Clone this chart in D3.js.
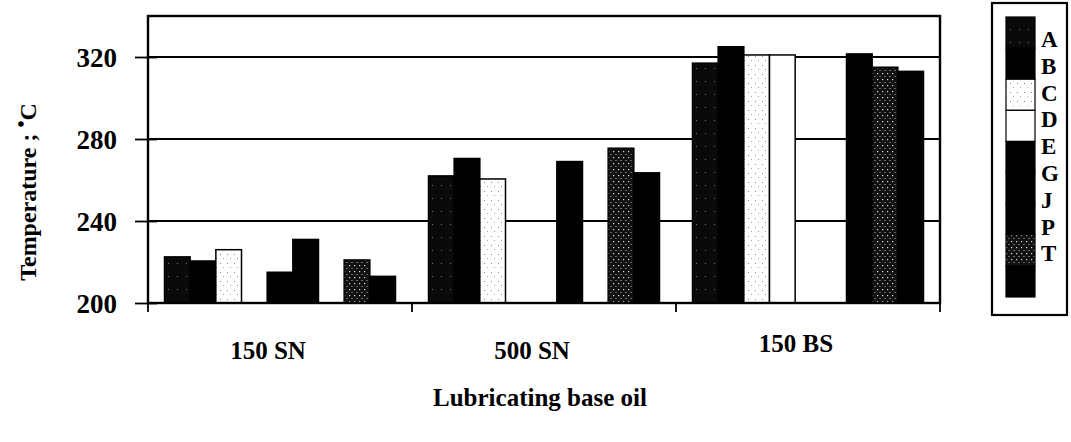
<!DOCTYPE html>
<html>
<head>
<meta charset="utf-8">
<script src="https://cdn.jsdelivr.net/npm/d3@7"></script>
<style>
  body { margin: 0; background: #fff; }
  svg { display: block; font-family: "Liberation Serif", "DejaVu Serif", serif; font-weight: bold; }
</style>
</head>
<body>
<div id="container"></div>
<script>
/* DATA */
const categories = ["150 SN", "500 SN", "150 BS"];
const seriesNames = ["A", "B", "C", "D", "E", "G", "J", "P", "T"];
const valuesA = [222.5, 262, 317];
const valuesB = [220.5, 270.5, 325];
const valuesC = [226, 260.5, 321];
const valuesD = [null, null, 321];
const valuesE = [215, null, null];
const valuesG = [231, 269, null];
const valuesJ = [null, null, 321.5];
const valuesP = [221, 275.5, 315];
const valuesT = [213, 263.5, 313];
const yTicks = [200, 240, 280, 320];

const seriesValues = [valuesA, valuesB, valuesC, valuesD, valuesE, valuesG, valuesJ, valuesP, valuesT];
const fills = ["url(#specks)", "#000", "url(#light)", "#fff", "#000", "#000", "#000", "url(#dots)", "#000"];

/* CONSTANTS */
const W = 1071, H = 442;
const margin = { top: 16, right: 131, bottom: 139, left: 148 };

const svg = d3.select("#container")
  .append("svg")
  .attr("width", W)
  .attr("height", H);

// patterns
const defs = svg.append("defs");
const specks = defs.append("pattern").attr("id", "specks")
  .attr("width", 9).attr("height", 13).attr("patternUnits", "userSpaceOnUse");
specks.append("rect").attr("width", 9).attr("height", 13).attr("fill", "#0a0a0a");
specks.append("rect").attr("x", 2).attr("y", 3).attr("width", 1).attr("height", 1).attr("fill", "#777");

const light = defs.append("pattern").attr("id", "light")
  .attr("width", 7).attr("height", 9).attr("patternUnits", "userSpaceOnUse");
light.append("rect").attr("width", 7).attr("height", 9).attr("fill", "#fff");
light.append("rect").attr("x", 2).attr("y", 2).attr("width", 1).attr("height", 1).attr("fill", "#888");
light.append("rect").attr("x", 5).attr("y", 6).attr("width", 1).attr("height", 1).attr("fill", "#aaa");

const dots = defs.append("pattern").attr("id", "dots")
  .attr("width", 5).attr("height", 6).attr("patternUnits", "userSpaceOnUse");
dots.append("rect").attr("width", 5).attr("height", 6).attr("fill", "#111");
dots.append("rect").attr("x", 1).attr("y", 1).attr("width", 1.2).attr("height", 1.2).attr("fill", "#ddd");
dots.append("rect").attr("x", 3.5).attr("y", 4).attr("width", 1).attr("height", 1).attr("fill", "#bbb");

/* SCALES */
const xScale = d3.scaleBand()
  .domain(categories)
  .range([margin.left, W - margin.right]);

const xInner = d3.scaleBand()
  .domain(seriesNames)
  .range([16.5, xScale.bandwidth() - 16.5]);

const yScale = d3.scaleLinear()
  .domain([200, 340])
  .range([H - margin.bottom, margin.top]);

/* GRIDLINES */
svg.append("g")
  .selectAll("line")
  .data(yTicks.slice(1))
  .join("line")
  .attr("x1", margin.left)
  .attr("x2", W - margin.right)
  .attr("y1", d => yScale(d))
  .attr("y2", d => yScale(d))
  .attr("stroke", "#000")
  .attr("stroke-width", 2.2);

/* BARS */
const groups = svg.selectAll(".cat")
  .data(categories)
  .join("g")
  .attr("class", "cat")
  .attr("transform", d => `translate(${xScale(d)},0)`);

groups.selectAll("rect")
  .data((c, ci) => seriesNames.map((s, si) => ({ s, si, v: seriesValues[si][ci] })).filter(d => d.v != null))
  .join("rect")
  .attr("x", d => xInner(d.s))
  .attr("width", xInner.bandwidth())
  .attr("y", d => yScale(d.v))
  .attr("height", d => yScale(200) - yScale(d.v))
  .attr("fill", d => fills[d.si])
  .attr("stroke", "#000")
  .attr("stroke-width", 1.5);

/* FRAME */
svg.append("rect")
  .attr("x", margin.left)
  .attr("y", margin.top)
  .attr("width", W - margin.left - margin.right)
  .attr("height", H - margin.top - margin.bottom)
  .attr("fill", "none")
  .attr("stroke", "#000")
  .attr("stroke-width", 2.4);

/* AXES */
const yAxis = svg.append("g")
  .attr("transform", `translate(${margin.left},0)`)
  .call(d3.axisLeft(yScale).tickValues(yTicks).tickSizeInner(13).tickSizeOuter(0).tickPadding(18));
yAxis.select(".domain").remove();
yAxis.selectAll(".tick line").attr("x2", 9).attr("x1", -13).attr("stroke-width", 1.8);
yAxis.selectAll(".tick text")
  .style("font-size", "27px")
  .style("font-family", "Liberation Serif, serif")
  .style("font-weight", "bold")
  .attr("dy", "0.35em");

const xAxis = svg.append("g")
  .attr("transform", `translate(0,${H - margin.bottom})`);
xAxis.selectAll("line")
  .data(categories.map(c => xScale(c)).concat([W - margin.right]))
  .join("line")
  .attr("x1", d => d).attr("x2", d => d)
  .attr("y1", 0).attr("y2", 9)
  .attr("stroke", "#000")
  .attr("stroke-width", 1.8);

// category labels
svg.selectAll(".catlabel")
  .data(categories)
  .join("text")
  .attr("class", "catlabel")
  .attr("x", d => xScale(d) + xScale.bandwidth() / 2 - 12)
  .attr("y", (d, i) => i === 2 ? 352 : 359)
  .attr("text-anchor", "middle")
  .style("font-size", "25px")
  .text(d => d);

// axis titles
svg.append("text")
  .attr("x", 540)
  .attr("y", 406)
  .attr("text-anchor", "middle")
  .style("font-size", "25px")
  .text("Lubricating base oil");

const yTitle = svg.append("text")
  .attr("transform", "translate(36,192) rotate(-90)")
  .attr("text-anchor", "middle")
  .style("font-size", "24px");
yTitle.append("tspan").text("Temperature ; ");
yTitle.append("tspan").attr("dy", -8).style("font-size", "20px").text("•");
yTitle.append("tspan").attr("dy", 8).text("C");

/* LEGEND */
const legend = svg.append("g");
legend.append("rect")
  .attr("x", 992).attr("y", 3)
  .attr("width", 75).attr("height", 312)
  .attr("fill", "#fff")
  .attr("stroke", "#000")
  .attr("stroke-width", 2.2);

const swH = (297 - 17) / seriesNames.length;
legend.selectAll(".sw")
  .data(seriesNames)
  .join("rect")
  .attr("class", "sw")
  .attr("x", 1006)
  .attr("y", (d, i) => 17 + i * swH)
  .attr("width", 29)
  .attr("height", swH)
  .attr("fill", (d, i) => fills[i])
  .attr("stroke", "#000")
  .attr("stroke-width", 1.2);

legend.selectAll(".lt")
  .data(seriesNames)
  .join("text")
  .attr("class", "lt")
  .attr("x", 1041)
  .attr("y", (d, i) => 47 + i * 26.8)
  .style("font-size", "23px")
  .text(d => d);
</script>
</body>
</html>
